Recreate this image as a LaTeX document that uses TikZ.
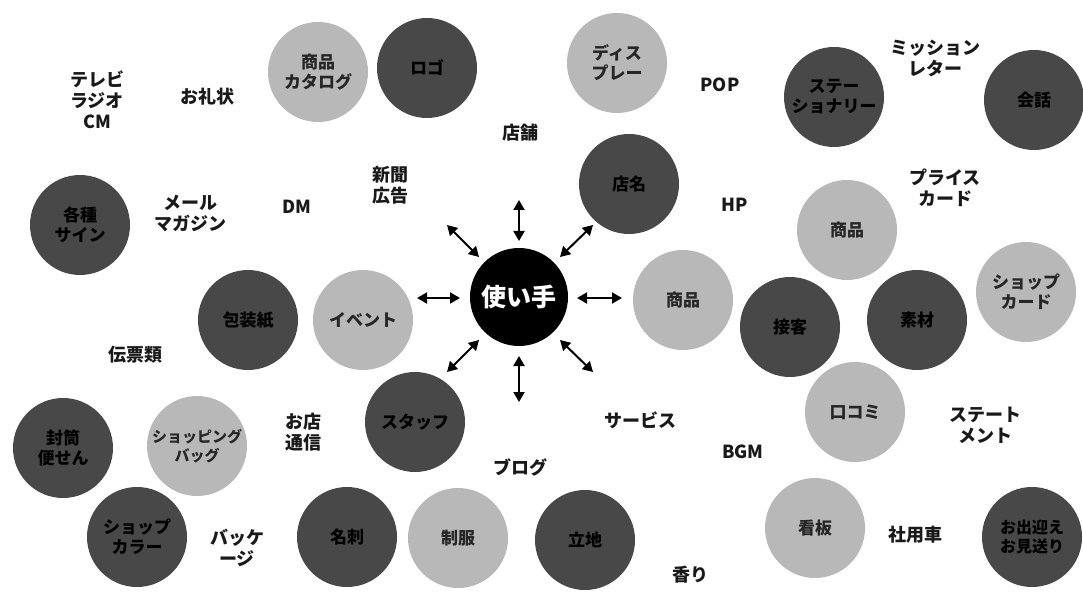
\documentclass[tikz,border=0pt]{standalone}
\usepackage{fontspec}
\setmainfont{Noto Sans CJK JP}
\usetikzlibrary{arrows.meta}
\definecolor{lightc}{HTML}{B8B8B8}
\definecolor{darkc}{HTML}{484848}
\newcommand{\jpf}{\bfseries\fontsize{17}{20}\selectfont}
\newcommand{\jpl}{\bfseries\fontsize{18}{21}\selectfont}
\tikzset{
  lt/.style={circle, minimum size=100pt, inner sep=0pt, fill=lightc, align=center, font=\jpf, text=black!85},
  dk/.style={circle, minimum size=100pt, inner sep=0pt, fill=darkc, align=center, font=\jpf, text=black},
  lbl/.style={align=center, font=\jpl, inner sep=0pt, text=black!90},
  arr/.style={{Triangle[length=10pt,width=11pt]}-{Triangle[length=10pt,width=11pt]}, line width=2pt}
}
\begin{document}
\begin{tikzpicture}[x=1pt,y=-1pt]
\useasboundingbox (0,0) rectangle (1083,609);
\fill[white] (0,0) rectangle (1083,609);
% centre
\node[circle, minimum size=98pt, inner sep=0pt, fill=black, text=white, font=\bfseries\fontsize{25}{28}\selectfont] (u) at (519,297) {使い手};
% top row
\node[lt] (cat) at (318,72) {商品\\カタログ};
\node[dk] (logo) at (427,68) {ロゴ};
\node[lt] (disp) at (617,63) {ディス\\プレー};
\node[dk] (stat) at (834,97) {ステー\\ショナリー};
\node[dk] (kaiwa) at (1034,100) {会話};
% second row
\node[dk] (sign) at (80,225) {各種\\サイン};
\node[dk] (tenmei) at (629,184) {店名};
\node[lt] (shohin1) at (847,230) {商品};
% middle row
\node[dk] (hoso) at (248,320) {包装紙};
\node[lt] (event) at (363,320) {イベント};
\node[lt] (shohin2) at (683,300) {商品};
\node[dk] (sekkyaku) at (790,327) {接客};
\node[dk] (sozai) at (917,320) {素材};
\node[lt] (scard) at (1026,292) {ショップ\\カード};
% lower rows
\node[dk] (futo) at (63,448) {封筒\\便せん};
\node[lt, font=\bfseries\fontsize{15}{19}\selectfont] (sbag) at (197,446) {ショッピング\\バッグ};
\node[dk] (staff) at (415,422) {スタッフ};
\node[lt] (kuchi) at (855,412) {口コミ};
\node[dk] (scolor) at (137,537) {ショップ\\カラー};
\node[dk] (meishi) at (347,537) {名刺};
\node[lt] (seifuku) at (458,538) {制服};
\node[dk] (ritchi) at (585,540) {立地};
\node[lt] (kanban) at (815,528) {看板};
\node[dk, font=\bfseries\fontsize{16}{19}\selectfont] (omukae) at (1032,537) {お出迎え\\お見送り};
% plain labels
\node[lbl] (tv) at (97,100) {テレビ\\ラジオ\\CM};
\node[lbl] (orei) at (207,97) {お礼状};
\node[lbl] (pop) at (720,85) {POP};
\node[lbl] (mission) at (935,58) {ミッション\\レター};
\node[lbl] (tenpo) at (520,133) {店舗};
\node[lbl] (shinbun) at (390,185) {新聞\\広告};
\node[lbl] (dm) at (297,207) {DM};
\node[lbl] (mail) at (190,213) {メール\\マガジン};
\node[lbl] (hp) at (735,205) {HP};
\node[lbl] (price) at (945,188) {プライス\\カード};
\node[lbl] (denpyo) at (135,355) {伝票類};
\node[lbl] (otsushin) at (303,432) {お店\\通信};
\node[lbl] (service) at (640,420) {サービス};
\node[lbl] (bgm) at (743,452) {BGM};
\node[lbl] (statement) at (985,425) {ステート\\メント};
\node[lbl] (blog) at (520,467) {ブログ};
\node[lbl] (package) at (237,548) {バッケ\\ージ};
\node[lbl] (kaori) at (690,575) {香り};
\node[lbl] (shayo) at (915,535) {社用車};
% arrow ends
\coordinate (l1) at (417,298); \coordinate (l2) at (460,298);
\coordinate (r1) at (577,298); \coordinate (r2) at (622,298);
\coordinate (t1) at (519,200); \coordinate (t2) at (519,241);
\coordinate (b1) at (519,356); \coordinate (b2) at (519,402);
\coordinate (ul1) at (447,225); \coordinate (ul2) at (479,257);
\coordinate (ur1) at (593,225); \coordinate (ur2) at (560,257);
\coordinate (ll1) at (447,372); \coordinate (ll2) at (479,340);
\coordinate (lr1) at (593,372); \coordinate (lr2) at (560,340);
\foreach \a in {l,r,t,b,ul,ur,ll,lr} {\draw[arr] (\a1) -- (\a2);}
\end{tikzpicture}
\end{document}
